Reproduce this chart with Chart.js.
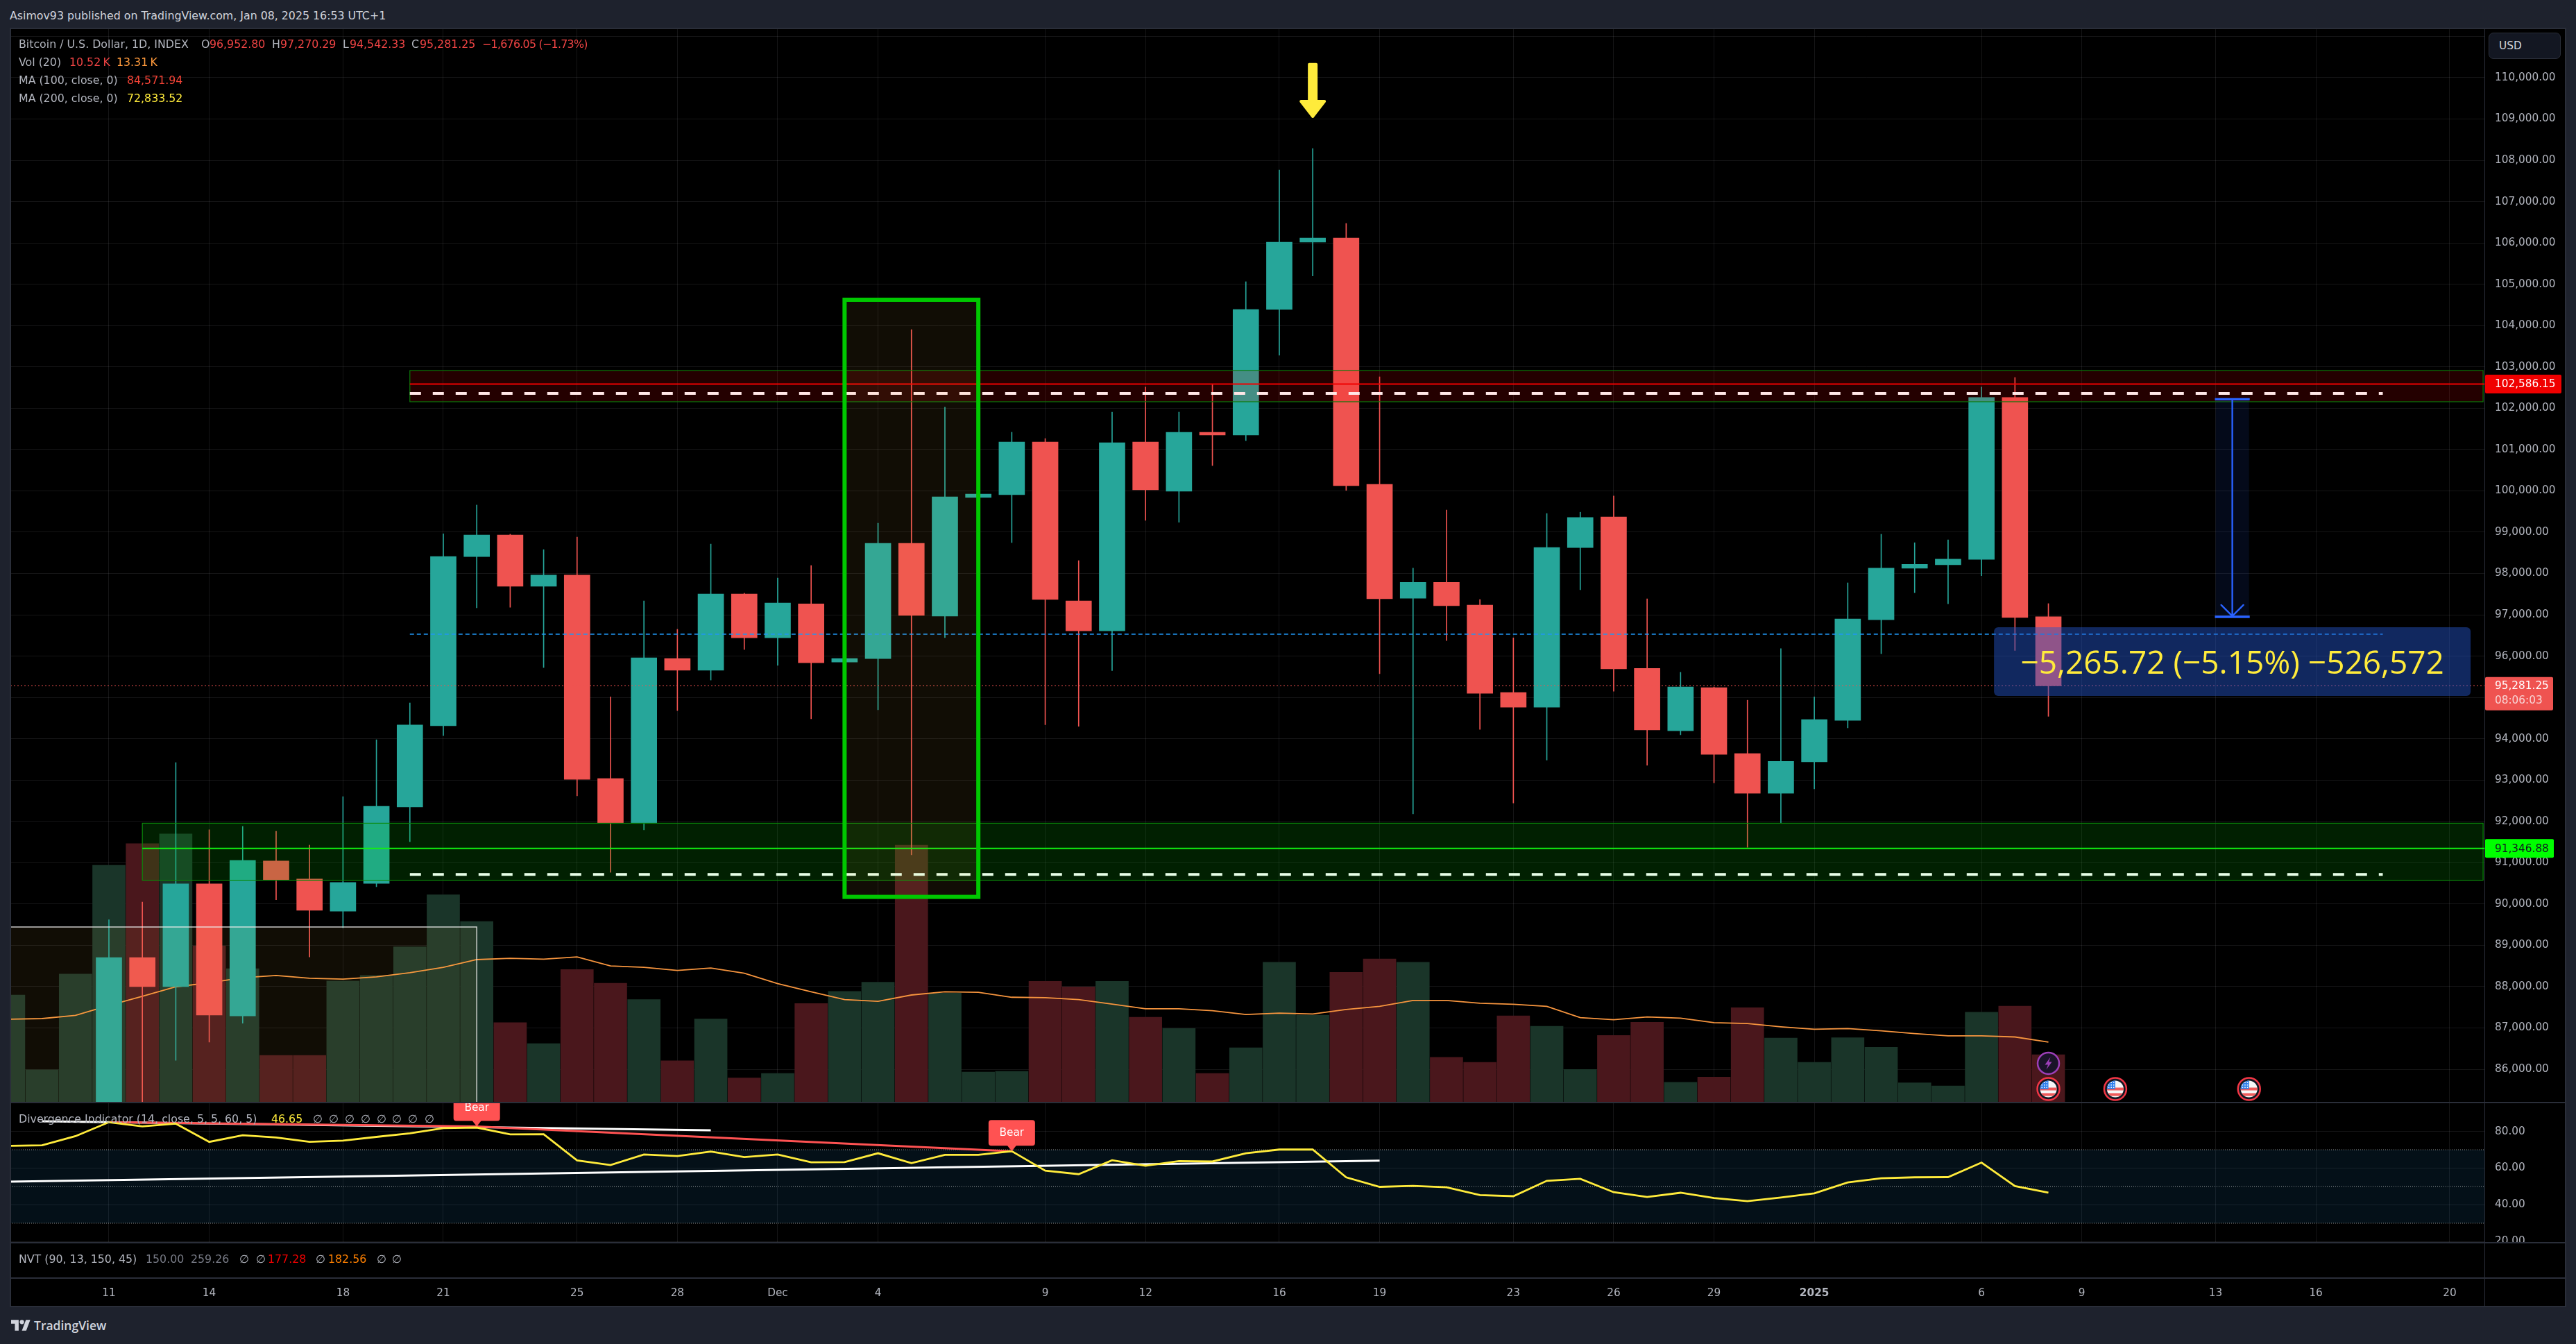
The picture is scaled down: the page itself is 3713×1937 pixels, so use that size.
<!DOCTYPE html>
<html>
<head>
<meta charset="utf-8">
<title>BTCUSD daily</title>
<script src="https://cdn.jsdelivr.net/npm/chart.js@4/dist/chart.umd.js"></script>
<style>
  html, body { margin: 0; padding: 0; background: #1e222d; }
  #page { position: relative; width: 3713px; height: 1937px; overflow: hidden; background: #1e222d; font-family: "DejaVu Sans", sans-serif; }
  canvas { position: absolute; background: #000; display: block; }
  .rule { position: absolute; background: #2a2e39; }
  .t { position: absolute; white-space: pre; font-size: 15.8px; line-height: 20px; color: #b2b5be; transform: translateY(-10px); }
  #usd { position: absolute; left: 3587px; top: 47px; width: 104px; height: 38px; box-sizing: border-box; background: #131722; border: 1px solid #2a2e39; border-radius: 7px; color: #d1d4dc; font-size: 15.3px; line-height: 36px; padding-left: 14px; }
  #logo { position: absolute; left: 16px; top: 1902px; }
</style>
</head>
<body>
<div id="page">
  <canvas id="priceCanvas" width="3683" height="1548" style="left:15px;top:41px"></canvas>
  <canvas id="rsiCanvas" width="3683" height="202" style="left:15px;top:1589px"></canvas>
  <canvas id="timeCanvas" width="3683" height="92" style="left:15px;top:1791px"></canvas>
  <div class="rule" style="left:14px;top:40px;width:3685px;height:2px"></div>
  <div class="rule" style="left:14px;top:40px;width:2px;height:1844px"></div>
  <div class="rule" style="left:3697px;top:40px;width:2px;height:1844px"></div>
  <div class="rule" style="left:14px;top:1882px;width:3685px;height:2px"></div>
  <div class="rule" style="left:14px;top:1588px;width:3685px;height:2px"></div>
  <div class="rule" style="left:14px;top:1790px;width:3685px;height:2px"></div>
  <div class="rule" style="left:14px;top:1841px;width:3685px;height:2px"></div>
  <div class="rule" style="left:3581px;top:41px;width:1px;height:1842px"></div>
  <div id="usd">USD</div>
  <div id="texts"></div>
  <svg id="logo" width="28" height="16" viewBox="0 0 36 20">
    <path fill="#d1d4dc" d="M14 20H7V7H0V0h14v20zM28 20h-8L27.5 0h8L28 20z"/>
    <circle fill="#d1d4dc" cx="20" cy="4" r="4"/>
  </svg>
</div>
<script>
// Daily candles, Nov 8 2024 (day 0) to Jan 8 2025 (day 61). The first three days sit below the visible range.
const dayNames = ["Nov 8","Nov 9","Nov 10","Nov 11","Nov 12","Nov 13","Nov 14","Nov 15","Nov 16","Nov 17","Nov 18","Nov 19","Nov 20","Nov 21","Nov 22","Nov 23","Nov 24","Nov 25","Nov 26","Nov 27","Nov 28","Nov 29","Nov 30","Dec 1","Dec 2","Dec 3","Dec 4","Dec 5","Dec 6","Dec 7","Dec 8","Dec 9","Dec 10","Dec 11","Dec 12","Dec 13","Dec 14","Dec 15","Dec 16","Dec 17","Dec 18","Dec 19","Dec 20","Dec 21","Dec 22","Dec 23","Dec 24","Dec 25","Dec 26","Dec 27","Dec 28","Dec 29","Dec 30","Dec 31","Jan 1","Jan 2","Jan 3","Jan 4","Jan 5","Jan 6","Jan 7","Jan 8"];
const opens = [null,null,null,80386,88704,87998,90486,87292,91041,90603,89828,90500,92351,94315,98410,98930,97690,97960,93036,91956,95941,95658,97503,96442,97265,95857,95941,98731,96968,99839,99906,101183,97337,96610,101183,99990,101418,101351,104390,106019,106120,100158,97400,97786,97233,95118,94765,98628,99367,95703,94193,95234,93640,92682,93440,94443,96880,98127,98210,98343,102259,96952.80];
const highs = [null,null,null,89616,90047,93420,91796,91878,91761,91425,92598,93975,94867,98962,99656,98950,98577,98879,95015,97336,96648,98712,97522,97889,98191,96314,99218,103903,102023,100545,101418,101267,98311,101905,102510,101905,102588,105062,107766,108287,106473,102761,98127,99534,97368,96442,99451,99483,99875,97387,95607,95253,94932,96179,95015,97773,98949,98744,98814,102511,102745,97270.29];
const lows = [null,null,null,80216,85072,86216,86655,87114,90102,88718,89424,90418,91508,94077,97169,97182,95723,92618,90767,91795,94681,95420,96160,95774,94482,93627,94700,91193,96446,98977,98748,94340,94300,95650,99285,99240,100612,101216,103282,105200,100013,95575,92181,96378,94225,92444,93485,97606,95150,93357,94096,92933,91371,91962,92785,94263,96057,97535,97265,97947,96136,94542.33];
const closes = [null,null,null,88704,87998,90486,87313,91055,90575,89849,90520,92365,94332,98410,98930,97690,97960,93016,91956,95960,95658,97503,96442,97285,95838,95941,98731,96984,99856,99923,101183,97370,96610,101166,100024,101418,101351,104390,106019,106120,100125,97387,97786,97220,95099,94765,98628,99354,95690,94212,95253,93621,92682,93453,94463,96899,98127,98223,98345,102259,96933,95281.25];

// Volume in thousands of BTC and its 20-day average
const volumes = [23.7,7.2,28.3,52.3,57.05,59.2,34.5,29.5,10.4,10.4,26.8,28.0,34.3,45.8,39.9,17.6,13.0,29.3,26.3,22.7,9.2,18.4,5.4,6.4,21.8,24.5,26.5,56.7,24.1,6.7,6.85,26.7,25.5,26.7,18.8,16.3,6.4,12.05,30.9,19.25,28.7,31.65,30.9,9.95,8.84,19.1,16.8,7.3,14.8,17.7,4.45,5.6,20.9,14.2,8.84,14.3,12.2,4.35,3.66,19.9,21.25,10.52];
const volumeAverage = [18.35,18.5,19.2,21.4,23.4,25.5,26.4,27.5,28,27.4,27.2,27.7,28.6,29.8,31.5,31.8,31.6,32.1,30.1,29.8,29.1,29.65,28.5,26.2,24.4,22.7,22.3,23.7,24.4,24.3,23.2,23.1,22.7,21.7,20.65,20.65,20.25,19.4,19.7,19.5,20.5,21.2,22.5,22.5,21.9,21.65,21.2,18.7,18.25,18.85,18.6,17.6,17.4,16.7,16.15,16.3,15.8,15.2,14.7,14.7,14.45,13.31];

// Divergence indicator (RSI 14)
const rsiValues = [72.1,72.4,77.4,85,82.7,84.2,74.3,77.9,76.7,74.3,75,77,78.9,81.8,82.1,78.4,78.5,64.2,61.7,67.4,66.6,69,66,67.4,63.2,63.3,68.1,62.7,67.2,67.2,69.2,58.6,56.7,64.3,61.3,63.8,63.6,68.1,70.1,70.1,55,49.8,50.3,49.6,45.3,44.7,53.1,54.2,46.9,44.3,46.6,43.7,42,44,46.3,52.2,54.5,55,55.1,63,50.2,46.65];
const rsiUpperTrend = [[1,85.5],[21,80.6]];
const rsiLowerTrend = [[0.054,52.6],[41,64.1]];
const rsiBearTrend = [[3,85],[14,82.7],[30,69.2]];
const bearSignals = [[14,82.7],[30,69.2]];
const rsiBandLevels = [70,50,30];

// Axis ticks
const tickDays = [3,6,10,13,17,20,23,26,31,34,38,41,45,48,51,54,59,62,66,69,73];
const tickLabels = ["11","14","18","21","25","28","Dec","4","9","12","16","19","23","26","29","2025","6","9","13","16","20"];
const priceTicks = [86000,87000,88000,89000,90000,91000,92000,93000,94000,95000,96000,97000,98000,99000,100000,101000,102000,103000,104000,105000,106000,107000,108000,109000,110000,111000];
const rsiTicks = [20,40,60,80];

// Price levels and drawings on the price pane
const resistanceBand = [102157,102912];
const resistanceLevel = 102586.15;
const resistanceDash = 102358;
const supportBand = [90575,91955];
const supportLevel = 91346.88;
const supportDash = 90714;
const lastPrice = 95281.25;
const positionMid = 96530;
const positionTop = 102217;
const positionBottom = 96951.25;
const positionDays = [66,67];
const dropLabelText = "\u22125,265.72 (\u22125.15%) \u2212526,572";
const highlightRange = [25,29,90172,104625];
const shadedRange = [-1,14,85000,89443];
const topMarker = [39,110358,109026];
const flagDays = [61,63,67];

const C = { up:"#26a69a", down:"#ef5350", volUp:"#1a3529", volDown:"#4a171c", ma:"#f7953e", grid:"rgba(240,243,250,0.085)", tick:"#b2b5be", yellow:"#ffeb3b" };
const FONT = '"DejaVu Sans", sans-serif';
const MIN_DAY = 0.054, MAX_DAY = 74.06;

const isUp = i => opens[i] === null || closes[i] >= opens[i];
const series = (vals) => vals.map((v,i)=>({x:i,y:v}));
const pairs = (arr) => arr.map(p=>({x:p[0],y:p[1]}));

function xAxis(labels, grid) {
  return {
    type:"linear", min:MIN_DAY, max:MAX_DAY, offset:false,
    border:{display:false},
    grid:{display:grid, color:C.grid, lineWidth:1, drawTicks:false, offset:false},
    afterBuildTicks(s){ s.ticks = tickDays.map(v=>({value:v})); },
    afterFit(s){ s.height = labels ? 41 : 0; s.paddingLeft = 0; s.paddingRight = 0; },
    ticks:{
      display:labels, autoSkip:false, maxRotation:0, minRotation:0, padding:13, color:C.tick,
      font:(ctx)=>({family:FONT,size:15.3,weight:(ctx.tick && ctx.tick.value===54)?"bold":"normal"}),
      callback:(v)=>{ const i = tickDays.indexOf(v); return i<0 ? "" : tickLabels[i]; }
    }
  };
}
function yAxis(min,max,ticks,labels) {
  return {
    type:"linear", position:"right", min, max,
    border:{display:false},
    grid:{display:labels, color:C.grid, lineWidth:1, drawTicks:false},
    afterBuildTicks(s){ if (ticks) s.ticks = ticks.map(v=>({value:v})); },
    afterFit(s){ s.width = 116; s.paddingTop = 0; s.paddingBottom = 0; },
    ticks:{
      display:labels, autoSkip:false, padding:14, crossAlign:"near", color:C.tick,
      font:{family:FONT,size:15.3},
      callback:(v)=> (v>=111000 ? "" : v.toLocaleString("en-US",{minimumFractionDigits:2,maximumFractionDigits:2}))
    }
  };
}
const baseOptions = { responsive:false, animation:false, events:[], devicePixelRatio:1,
  layout:{padding:0, autoPadding:false},
  plugins:{legend:{display:false}, tooltip:{enabled:false}} };

function hLine(ctx, x0, x1, y, color, width, dash) {
  ctx.save(); ctx.beginPath(); ctx.strokeStyle=color; ctx.lineWidth=width; ctx.setLineDash(dash||[]);
  ctx.moveTo(x0,y); ctx.lineTo(x1,y); ctx.stroke(); ctx.restore();
}
function roundRect(ctx,x,y,w,h,r,fill){ ctx.beginPath(); ctx.roundRect(x,y,w,h,r); ctx.fillStyle=fill; ctx.fill(); }

function drawFlag(ctx,cx,cy){
  ctx.save();
  ctx.beginPath(); ctx.arc(cx,cy,16,0,Math.PI*2); ctx.fillStyle="#131722"; ctx.fill();
  ctx.beginPath(); ctx.arc(cx,cy,16,0,Math.PI*2); ctx.strokeStyle="#f23645"; ctx.lineWidth=2.5; ctx.stroke();
  ctx.beginPath(); ctx.arc(cx,cy,12,0,Math.PI*2); ctx.clip();
  ctx.fillStyle="#f7f7f7"; ctx.fillRect(cx-13,cy-13,26,26);
  ctx.fillStyle="#f05a5a";
  ctx.fillRect(cx-13,cy-2,26,4); ctx.fillRect(cx-13,cy+6,26,4);
  ctx.fillStyle="#2f80ed"; ctx.fillRect(cx-13,cy-13,13,13);
  ctx.fillStyle="#fff";
  for(let a=0;a<3;a++) for(let b=0;b<3;b++){ ctx.fillRect(cx-10+a*3.5,cy-10+b*3.5,1.5,1.5); }
  ctx.restore();
}
function drawBolt(ctx,cx,cy){
  ctx.save();
  ctx.beginPath(); ctx.arc(cx,cy,15.5,0,Math.PI*2); ctx.fillStyle="#1a1329"; ctx.fill();
  ctx.strokeStyle="#9c3fb8"; ctx.lineWidth=2.5; ctx.stroke();
  ctx.beginPath();
  ctx.moveTo(cx+3,cy-9); ctx.lineTo(cx-5,cy+2); ctx.lineTo(cx-0.5,cy+2); ctx.lineTo(cx-3,cy+9); ctx.lineTo(cx+5,cy-2); ctx.lineTo(cx+0.5,cy-2); ctx.closePath();
  ctx.fillStyle="#9c3fb8"; ctx.fill();
  ctx.restore();
}

// Bands, lines, measure tool and price tags over the candles
const priceOverlay = {
  id:"priceOverlay",
  afterDatasetsDraw(chart){
    const {ctx, chartArea:a, scales:{x,y}} = chart;
    const X = v=>x.getPixelForValue(v), Y = v=>y.getPixelForValue(v);
    ctx.save();
    ctx.beginPath(); ctx.rect(a.left,a.top,a.width,a.height); ctx.clip();

    // shaded box at lower left
    const sx1 = X(shadedRange[1]), sy = Y(shadedRange[3]);
    ctx.fillStyle = "rgba(255,190,80,0.065)";
    ctx.fillRect(a.left, sy, sx1-a.left, a.bottom-sy);
    ctx.strokeStyle = "rgba(235,235,235,0.85)"; ctx.lineWidth = 1.5;
    ctx.beginPath(); ctx.moveTo(a.left,sy); ctx.lineTo(sx1,sy); ctx.lineTo(sx1,a.bottom); ctx.stroke();

    // support zone
    const gx0 = X(4), gx1 = X(74);
    const gt = Y(supportBand[1]), gb = Y(supportBand[0]);
    ctx.fillStyle = "rgba(5,200,5,0.16)"; ctx.fillRect(gx0,gt,gx1-gx0,gb-gt);
    ctx.strokeStyle = "#0a8a0a"; ctx.lineWidth = 1.2; ctx.strokeRect(gx0,gt,gx1-gx0,gb-gt);
    hLine(ctx,gx0,a.right,Y(supportLevel),"#12f012",2);

    // resistance zone
    const rx0 = X(12);
    const rt = Y(resistanceBand[1]), rb = Y(resistanceBand[0]);
    ctx.fillStyle = "rgba(255,0,0,0.14)"; ctx.fillRect(rx0,rt,gx1-rx0,rb-rt);
    ctx.strokeStyle = "#0a7a0a"; ctx.lineWidth = 1.2; ctx.strokeRect(rx0,rt,gx1-rx0,rb-rt);
    hLine(ctx,rx0,a.right,Y(resistanceLevel),"#f00000",2);

    // long/short position tool lines
    const dx1 = X(71);
    hLine(ctx,rx0,dx1,Y(resistanceDash),"#ffe6e6",4,[16,17]);
    hLine(ctx,rx0,dx1,Y(supportDash),"#e8ffe8",4,[16,17]);
    hLine(ctx,rx0,dx1,Y(positionMid),"#2196f3",1.5,[6,4]);
    hLine(ctx,a.left,a.right,Y(lastPrice),"#ef5350",1,[2,3]);

    // highlighted range
    const hx0=X(highlightRange[0]), hx1=X(highlightRange[1]), hy0=Y(highlightRange[3]), hy1=Y(highlightRange[2]);
    ctx.fillStyle = "rgba(255,190,80,0.065)"; ctx.fillRect(hx0,hy0,hx1-hx0,hy1-hy0);
    ctx.strokeStyle = "#00c800"; ctx.lineWidth = 6; ctx.strokeRect(hx0,hy0,hx1-hx0,hy1-hy0);

    // measure arrow
    const ax0=X(positionDays[0]), ax1=X(positionDays[1]), am=(ax0+ax1)/2, at=Y(positionTop), ab=Y(positionBottom);
    ctx.fillStyle = "rgba(41,98,255,0.1)"; ctx.fillRect(ax0,at,ax1-ax0,ab-at);
    ctx.strokeStyle = "#2962ff"; ctx.lineWidth = 2.4; ctx.lineCap="round"; ctx.lineJoin="round";
    ctx.beginPath(); ctx.moveTo(am,at); ctx.lineTo(am,ab-1);
    ctx.moveTo(am-16,ab-17); ctx.lineTo(am,ab-1); ctx.lineTo(am+16,ab-17); ctx.stroke();
    ctx.lineCap="butt"; ctx.lineWidth = 3.4;
    ctx.beginPath(); ctx.moveTo(ax0-1,at); ctx.lineTo(ax1+1,at); ctx.moveTo(ax0-1,ab); ctx.lineTo(ax1+1,ab); ctx.stroke();

    // measure label
    const lc = X(66.5), ly = Y(positionBottom)+64.5;
    roundRect(ctx,lc-343.5,ly-49.5,687,99,6,"rgba(36,85,202,0.47)");
    ctx.fillStyle = C.yellow; ctx.font = '46px "Open Sans", sans-serif'; ctx.textAlign="center"; ctx.textBaseline="middle";
    ctx.fillText(dropLabelText, lc, ly+4);

    // marker above the top
    const mx=X(topMarker[0]), m0=Y(topMarker[1]), m1=Y(topMarker[2]);
    ctx.fillStyle = C.yellow; ctx.strokeStyle = C.yellow; ctx.lineJoin="round"; ctx.lineWidth=4;
    ctx.beginPath();
    ctx.moveTo(mx-5,m0+2); ctx.lineTo(mx+5,m0+2); ctx.lineTo(mx+5,m1-24); ctx.lineTo(mx+17,m1-24); ctx.lineTo(mx,m1-2); ctx.lineTo(mx-17,m1-24); ctx.lineTo(mx-5,m1-24);
    ctx.closePath(); ctx.fill(); ctx.stroke();

    // economic event icons
    flagDays.forEach(d=>drawFlag(ctx,X(d),a.bottom-19.5));
    drawBolt(ctx,X(61),a.bottom-56.5);
    ctx.restore();

    // price tags on the axis
    ctx.save();
    ctx.textBaseline="middle"; ctx.textAlign="left"; ctx.font = '15.3px '+FONT;
    const ax=a.right, tx=ax+14;
    const fmt = v=>v.toLocaleString("en-US",{minimumFractionDigits:2,maximumFractionDigits:2});
    let ty=Y(resistanceLevel);
    roundRect(ctx,ax,ty-13.5,110,27,2,"#f00000"); ctx.fillStyle="#fff"; ctx.fillText(fmt(resistanceLevel),tx,ty+1);
    ty=Y(supportLevel);
    roundRect(ctx,ax,ty-13.5,99,27,2,"#00ff00"); ctx.fillStyle="#131722"; ctx.fillText(fmt(supportLevel),tx,ty+1);
    ty=Y(lastPrice);
    roundRect(ctx,ax,ty-12.5,98,48,2,C.down); ctx.fillStyle="#fff"; ctx.fillText(fmt(lastPrice),tx,ty+1);
    ctx.fillStyle="#f8d6d6"; ctx.fillText("08:06:03",tx,ty+22);
    ctx.restore();
  }
};

new Chart(document.getElementById("priceCanvas"),{
  type:"bar",
  plugins:[priceOverlay],
  data:{ datasets:[
    { type:"bar", label:"Volume", yAxisID:"vol", order:5, grouped:false, barThickness:47, borderWidth:0,
      data:series(volumes), backgroundColor:volumes.map((v,i)=>isUp(i)?C.volUp:C.volDown) },
    { type:"line", label:"Volume MA", yAxisID:"vol", order:4, data:series(volumeAverage),
      borderColor:C.ma, borderWidth:1.8, pointRadius:0, tension:0 },
    { type:"bar", label:"Wicks", yAxisID:"y", order:3, grouped:false, barThickness:1, borderWidth:0,
      data:highs.map((h,i)=>h===null?{x:i,y:null}:{x:i,y:[lows[i],h]}),
      backgroundColor:highs.map((h,i)=>isUp(i)?C.up:C.down) },
    { type:"bar", label:"Bodies", yAxisID:"y", order:2, grouped:false, barThickness:37, borderWidth:0,
      data:opens.map((o,i)=>o===null?{x:i,y:null}:{x:i,y:[o,closes[i]]}),
      backgroundColor:opens.map((o,i)=>isUp(i)?C.up:C.down) }
  ]},
  options:{...baseOptions, scales:{
    x:xAxis(false,true),
    y:yAxis(85194,111192,priceTicks,true),
    vol:{type:"linear",display:false,min:0,max:236.7,position:"left"}
  }}
});

// Oscillator band and signal tags
const rsiOverlay = {
  id:"rsiOverlay",
  beforeDatasetsDraw(chart){
    const {ctx, chartArea:a, scales:{y}} = chart;
    const t=y.getPixelForValue(rsiBandLevels[0]), b=y.getPixelForValue(rsiBandLevels[2]);
    ctx.fillStyle="rgba(30,130,200,0.12)"; ctx.fillRect(a.left,t,a.width,b-t);
    rsiBandLevels.forEach(l=>hLine(ctx,a.left,a.right,y.getPixelForValue(l),"rgba(255,255,255,0.6)",1,[1,2]));
  },
  afterDatasetsDraw(chart){
    const {ctx, scales:{x,y}} = chart;
    bearSignals.forEach(([d,v])=>{
      const cx=x.getPixelForValue(d), tip=y.getPixelForValue(v);
      ctx.save();
      roundRect(ctx,cx-33.5,tip-45,67,37,4,"#ff5252");
      ctx.beginPath(); ctx.moveTo(cx-7,tip-9); ctx.lineTo(cx,tip); ctx.lineTo(cx+7,tip-9); ctx.closePath(); ctx.fill();
      ctx.fillStyle="#fff"; ctx.font='15.3px '+FONT; ctx.textAlign="center"; ctx.textBaseline="middle";
      ctx.fillText("Bear",cx,tip-26);
      ctx.restore();
    });
  }
};
new Chart(document.getElementById("rsiCanvas"),{
  type:"line",
  plugins:[rsiOverlay],
  data:{ datasets:[
    { label:"Bearish divergence", order:2, data:pairs(rsiBearTrend), borderColor:"#ff5252", borderWidth:3, pointRadius:0 },
    { label:"Upper trend", order:3, data:pairs(rsiUpperTrend), borderColor:"#ffffff", borderWidth:3, pointRadius:0 },
    { label:"Lower trend", order:3, data:pairs(rsiLowerTrend), borderColor:"#ffffff", borderWidth:3, pointRadius:0 },
    { label:"RSI", order:1, data:series(rsiValues), borderColor:C.yellow, borderWidth:2.8, pointRadius:0, tension:0 }
  ]},
  options:{...baseOptions, scales:{ x:xAxis(false,true), y:yAxis(19.4,95.7,rsiTicks,true) }}
});

// Empty pane with the shared time axis below it
new Chart(document.getElementById("timeCanvas"),{
  type:"line",
  data:{ datasets:[{ data:[] }] },
  options:{...baseOptions, scales:{ x:xAxis(true,false), y:yAxis(0,1,null,false) }}
});

// Header and indicator legends
const NULLSIGN = "\u2205";
const G="#b2b5be", R="#ef4444", D="#787b86";
const texts = [
  ["Asimov93 published on TradingView.com, Jan 08, 2025 16:53 UTC+1",14,23,"#d1d4dc"],
  ["Bitcoin / U.S. Dollar, 1D, INDEX",27,63.5,G],
  ["O",290,63.5,G],["96,952.80",302,63.5,R],
  ["H",392,63.5,G],["97,270.29",404,63.5,R],
  ["L",494,63.5,G],["94,542.33",504,63.5,R],
  ["C",593,63.5,G],["95,281.25",605,63.5,R],
  ["\u22121,676.05 (\u22121.73%)",695,63.5,R,"-0.7px"],
  ["Vol (20)",27,90,G],["10.52\u2009K",100,90,R],["13.31\u2009K",168,90,"#ff9a3c"],
  ["MA (100, close, 0)",27,116,G],["84,571.94",183,116,"#f44336"],
  ["MA (200, close, 0)",27,142,G],["72,833.52",183,142,C.yellow],
  ["Divergence Indicator (14, close, 5, 5, 60, 5)",27,1613,G],["46.65",391,1613,C.yellow],
  ["NVT (90, 13, 150, 45)",27,1815,G],["150.00",210,1815,D],["259.26",275,1815,D],
  [NULLSIGN,345,1815,G],[NULLSIGN,369,1815,G],["177.28",386,1815,"#f00000"],[NULLSIGN,455,1815,G],
  ["182.56",473,1815,"#ff8000"],[NULLSIGN,543,1815,G],[NULLSIGN,565,1815,G]
];
[451,474,497,520,543,565,588,612].forEach(x=>texts.push([NULLSIGN,x,1613,G]));
const box = document.getElementById("texts");
texts.forEach(([s,x,y,c,spacing])=>{
  const el=document.createElement("div"); el.className="t"; el.textContent=s;
  el.style.left=x+"px"; el.style.top=y+"px"; el.style.color=c;
  if (spacing) el.style.letterSpacing=spacing;
  box.appendChild(el);
});
const brand=document.createElement("div"); brand.className="t"; brand.textContent="TradingView";
brand.style.cssText='left:49px;top:1910px;color:#d1d4dc;font:600 17.5px "Open Sans",sans-serif;line-height:20px';
box.appendChild(brand);
</script>
</body>
</html>
